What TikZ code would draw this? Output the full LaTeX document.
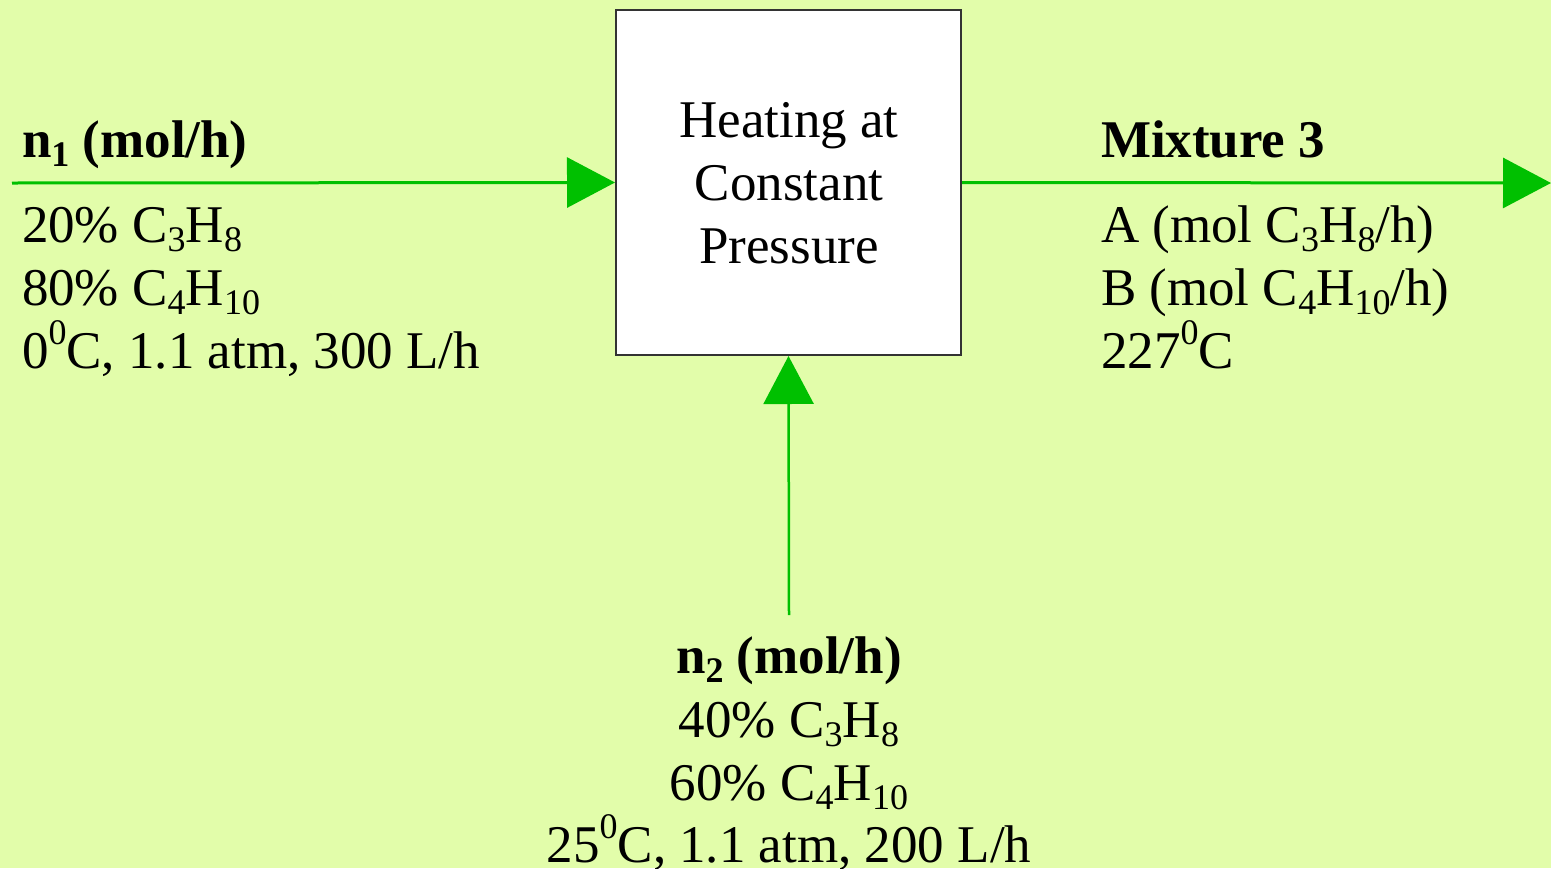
\documentclass[tikz,border=0pt]{standalone}
\usepackage{fontspec}
\setmainfont{Liberation Serif}
\usetikzlibrary{arrows.meta}
\definecolor{bg}{HTML}{E2FDAA}
\definecolor{flowgreen}{HTML}{00C000}
\definecolor{boxline}{HTML}{333333}
\newcommand{\sbs}[1]{\raisebox{-0.38ex}{\fontsize{36}{36}\selectfont #1}}
\newcommand{\sps}[1]{\raisebox{0.95ex}{\fontsize{36}{36}\selectfont #1}}
\tikzset{
  txt/.style={inner sep=0pt, outer sep=0pt, font=\fontsize{53}{63}\selectfont},
  lft/.style={txt, anchor=base west},
  ctr/.style={txt, anchor=base},
  procbox/.style={draw=boxline, line width=2pt, fill=white, minimum width=345pt, minimum height=345pt, inner sep=0pt},
  flow/.style={draw=flowgreen, line width=3pt, -{Triangle[length=48pt,width=50pt]}}
}
\begin{document}
\begin{tikzpicture}[x=1pt,y=-1pt]
\fill[bg] (0,0) rectangle (1551,868);
\useasboundingbox (0,0) rectangle (1551,868);
% process box
\node[procbox] (box) at (788.5,182.5) {};
\node[ctr] (h1) at (789,137) {Heating at};
\node[ctr] (h2) at (789,200) {Constant};
\node[ctr] (h3) at (789,263) {Pressure};
% connectors
\coordinate (in1) at (12,183);
\coordinate (out) at (1551,183);
\coordinate (in2) at (789,615);
\draw[flow] (in1) -- (box.west);
\draw[flow] (box.east) -- (out);
\draw[flow, line width=2.5pt] (in2) -- (box.south);
% feed 1
\node[lft] (f1a) at (22,157) {\textbf{n\sbs{1} (mol/h)}};
\node[lft] (f1b) at (22,242) {20\% C\sbs{3}H\sbs{8}};
\node[lft] (f1c) at (22,305) {80\% C\sbs{4}H\sbs{10}};
\node[lft] (f1d) at (22,368) {0\sps{0}C, 1.1 atm, 300 L/h};
% product
\node[lft] (pa) at (1101,157) {\textbf{Mixture 3}};
\node[lft] (pb) at (1101,242) {A (mol C\sbs{3}H\sbs{8}/h)};
\node[lft] (pc) at (1101,305) {B (mol C\sbs{4}H\sbs{10}/h)};
\node[lft] (pd) at (1101,368) {227\sps{0}C};
% feed 2
\node[ctr] (f2a) at (789,673) {\textbf{n\sbs{2} (mol/h)}};
\node[ctr] (f2b) at (789,737) {40\% C\sbs{3}H\sbs{8}};
\node[ctr] (f2c) at (789,800) {60\% C\sbs{4}H\sbs{10}};
\node[ctr] (f2d) at (789,862) {25\sps{0}C, 1.1 atm, 200 L/h};
\end{tikzpicture}
\end{document}
